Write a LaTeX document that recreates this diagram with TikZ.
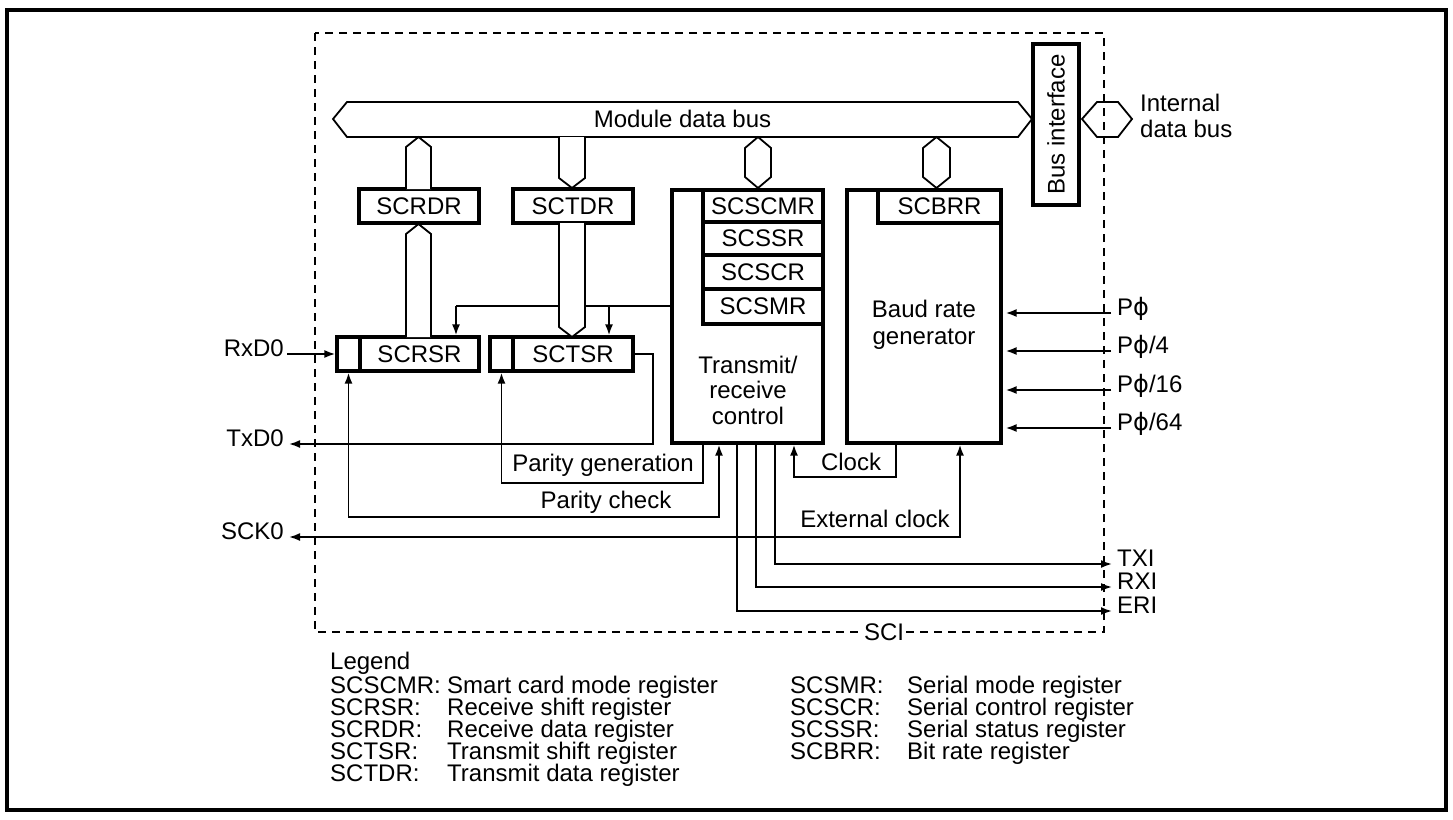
\documentclass[tikz,border=0pt]{standalone}
\usepackage{fontspec}
\setmainfont{Liberation Sans}
\newfontfamily\dejavu{DejaVu Sans}
\usetikzlibrary{arrows.meta}
\newcommand\phisym{{\dejavu ϕ}}
\begin{document}
\begin{tikzpicture}[x=1pt,y=-1pt,
  every node/.style={font=\fontsize{24}{26}\selectfont, inner sep=0pt},
  thinln/.style={line width=1.8pt},
  reg/.style={draw, line width=3.2pt, fill=white, inner sep=0pt},
  arr/.style={thinln, -{Latex[length=11pt,width=8pt]}},
  dualarr/.style={thinln, {Latex[length=11pt,width=8pt]}-{Latex[length=11pt,width=8pt]}},
  scidash/.style={line width=1.8pt, dash pattern=on 8pt off 6pt},
  buspoly/.style={line width=1.8pt, fill=white, line join=miter},
  rlab/.style={anchor=mid west},
  llab/.style={anchor=mid east},
  leg/.style={anchor=base west},
]
\useasboundingbox (0,0) rectangle (1453,819);
\draw[line width=3.2pt] (7,10) rectangle (1446,810);

% ---------- module data bus ----------
\draw[buspoly] (333,119) -- (347,102) -- (1018,102) -- (1032,119) -- (1018,137) -- (347,137) -- cycle;
\node (mdb) at (682.5,119) {Module data bus};

% bus interface
\node[reg, minimum width=46pt, minimum height=161pt] (bi) at (1056,124.5) {};
\node[rotate=90] at (bi.center) {Bus interface};
% internal data bus
\draw[buspoly] (1082,119) -- (1097,102) -- (1118,102) -- (1132,119) -- (1118,137) -- (1097,137) -- cycle;
\node[anchor=base west] (idb1) at (1140,111) {Internal};
\node[anchor=base west] (idb2) at (1140,137) {data bus};

% ---------- registers ----------
\node[reg, minimum width=120pt, minimum height=34pt] (scrdr) at (419,206) {SCRDR};
\node[reg, minimum width=120pt, minimum height=34pt] (sctdr) at (573,206) {SCTDR};
\node[reg, minimum width=119pt, minimum height=34pt] (scrsr) at (419.5,354) {SCRSR};
\node[reg, minimum width=23pt, minimum height=34pt] (scrsrc) at (348.5,354) {};
\node[reg, minimum width=120pt, minimum height=34pt] (sctsr) at (573,354) {SCTSR};
\node[reg, minimum width=23pt, minimum height=34pt] (sctsrc) at (501.5,354) {};

% control box
\node[reg, minimum width=151pt, minimum height=253pt] (ctrl) at (747.5,316.5) {};
\node[reg, minimum width=120pt, minimum height=32pt] (scscmr) at (763,206) {SCSCMR};
\node[reg, minimum width=120pt, minimum height=33pt] (scssr) at (763,238.5) {SCSSR};
\node[reg, minimum width=120pt, minimum height=34pt] (scscr) at (763,272) {SCSCR};
\node[reg, minimum width=120pt, minimum height=35pt] (scsmr) at (763,306.5) {SCSMR};
\node[align=center, font=\fontsize{24}{25.5}\selectfont] (trc) at (748,390) {Transmit/\\receive\\control};

% baud rate generator
\node[reg, minimum width=154pt, minimum height=253pt] (baud) at (924,316.5) {};
\node[reg, minimum width=123pt, minimum height=33pt] (scbrr) at (939.5,206.5) {SCBRR};
\node[align=center, font=\fontsize{24}{27}\selectfont] (brg) at (924,325) {Baud rate\\generator};

% ---------- internal control line ----------
\coordinate (c1) at (456,306);
\coordinate (c2) at (609,306);
\draw[thinln] (ctrl.west |- c1) -- (c1);
\draw[arr] (c1) -- (c1 |- scrsr.north);
\draw[arr] (c2) -- (c2 |- sctsr.north);

% ---------- vertical bus connectors ----------
\draw[buspoly] (406,189) -- (406,147) -- (418.5,137) -- (431,147) -- (431,189);
\draw[buspoly] (559,137) -- (559,178) -- (572,188) -- (585,178) -- (585,137);
\draw[buspoly] (758,137) -- (771,148) -- (771,177) -- (758,188) -- (745,177) -- (745,148) -- cycle;
\draw[buspoly] (936.5,137) -- (950,148) -- (950,177) -- (936.5,188) -- (923,177) -- (923,148) -- cycle;
\draw[buspoly] (406,337) -- (406,234) -- (418.5,224) -- (431,234) -- (431,337);
\draw[buspoly] (559,223) -- (559,327) -- (572,337) -- (585,327) -- (585,223);

% ---------- outside signals ----------
\node[llab] (rxd) at (284,354) {RxD0};
\node[llab] (txd) at (284,444) {TxD0};
\node[llab] (sck) at (284,537) {SCK0};

\draw[arr, shorten <=3pt] (rxd.mid east) -- (scrsrc.west);
\draw[arr, shorten >=5pt] (sctsr.east) -- ++(18,0) |- (txd.mid east);

% parity generation
\coordinate (pg) at (703,483);
\draw[arr] (ctrl.south -| pg) -- (pg) -| (sctsrc.south);
\node (pgl) at (603,465) {Parity generation};
% parity check
\coordinate (pc) at (719,517);
\draw[dualarr] (scrsrc.south) |- (pc) -- (ctrl.south -| pc);
\node (pcl) at (606,502) {Parity check};
% external clock
\coordinate (ec) at (960,537);
\draw[dualarr, shorten <=5pt] (sck.mid east) -- (ec) -- (baud.south -| ec);
\node (ecl) at (875,519) {External clock};
% clock
\coordinate (ck) at (896,477);
\coordinate (ckl) at (794,477);
\draw[arr] (baud.south -| ck) -- (ck) -- (ckl) -- (ctrl.south -| ckl);
\node (ckt) at (851,462) {Clock};

% interrupts
\node[rlab] (txi) at (1117,564) {TXI};
\node[rlab] (rxi) at (1117,587) {RXI};
\node[rlab] (eri) at (1117,611) {ERI};
\coordinate (t1) at (775,564);
\coordinate (t2) at (756,587);
\coordinate (t3) at (737,611);
\draw[arr, shorten >=5pt] (ctrl.south -| t1) |- (txi.mid west);
\draw[arr, shorten >=5pt] (ctrl.south -| t2) |- (rxi.mid west);
\draw[arr, shorten >=5pt] (ctrl.south -| t3) |- (eri.mid west);

% clock inputs
\node[rlab] (p1) at (1117,313) {P\phisym};
\node[rlab] (p4) at (1117,351) {P\phisym/4};
\node[rlab] (p16) at (1117,390) {P\phisym/16};
\node[rlab] (p64) at (1117,428) {P\phisym/64};
\foreach \p in {p1,p4,p16,p64}{
  \draw[arr, shorten <=6pt, shorten >=3pt] (\p.mid west) -- (baud.east |- \p.mid west);
}

% ---------- SCI dashed boundary ----------
\draw[scidash] (315,33) rectangle (1104,632);
\node[fill=white, inner sep=2pt] (sci) at (884,632) {SCI};

% ---------- legend ----------
\node[leg] at (330,669) {Legend};
\node[leg] at (330,693) {SCSCMR:};
\node[leg] at (330,715) {SCRSR:};
\node[leg] at (330,737) {SCRDR:};
\node[leg] at (330,759) {SCTSR:};
\node[leg] at (330,781) {SCTDR:};
\node[leg] at (447,693) {Smart card mode register};
\node[leg] at (447,715) {Receive shift register};
\node[leg] at (447,737) {Receive data register};
\node[leg] at (447,759) {Transmit shift register};
\node[leg] at (447,781) {Transmit data register};
\node[leg] at (790,693) {SCSMR:};
\node[leg] at (790,715) {SCSCR:};
\node[leg] at (790,737) {SCSSR:};
\node[leg] at (790,759) {SCBRR:};
\node[leg] at (907,693) {Serial mode register};
\node[leg] at (907,715) {Serial control register};
\node[leg] at (907,737) {Serial status register};
\node[leg] at (907,759) {Bit rate register};
\end{tikzpicture}
\end{document}
